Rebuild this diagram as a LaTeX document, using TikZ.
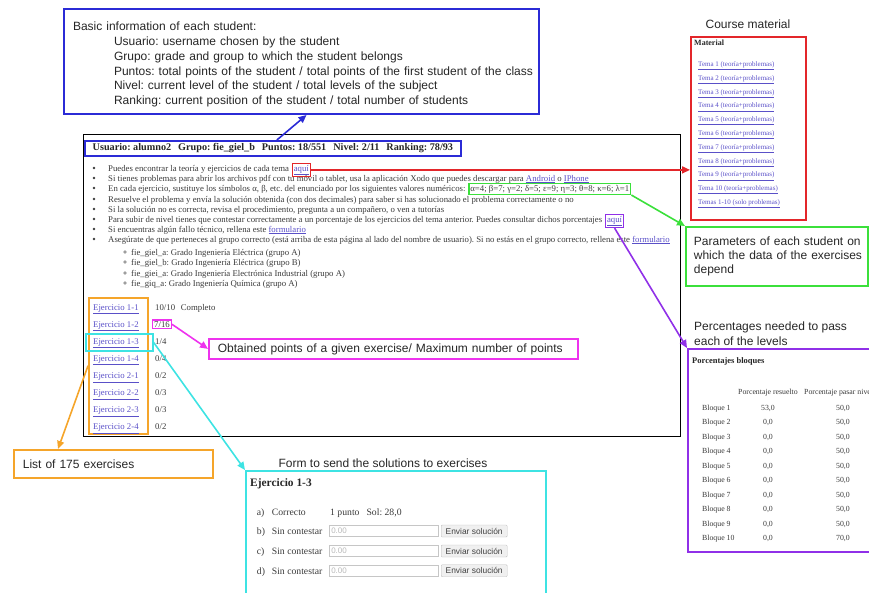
\documentclass[tikz,border=0pt]{standalone}
\usepackage{fontspec}
\setmainfont{Liberation Serif}
\newfontfamily\sansf{Liberation Sans}
\usetikzlibrary{arrows.meta}
\definecolor{cBlue}{HTML}{2B2BD6}
\definecolor{cRed}{HTML}{E3262A}
\definecolor{cGreen}{HTML}{3BE03B}
\definecolor{cPurple}{HTML}{9030E8}
\definecolor{cMag}{HTML}{EE33EE}
\definecolor{cOrange}{HTML}{F5A52A}
\definecolor{cCyan}{HTML}{3DE3E3}
\definecolor{cLink}{HTML}{5A50C8}
\definecolor{cTxt}{HTML}{3A3A3A}
\newcommand\weblink[1]{{\color{cLink}\underline{#1}}}
\begin{document}
\frenchspacing
\hyphenpenalty=10000
\begin{tikzpicture}[x=1pt,y=-1pt,
 ann/.style={font=\sansf\fontsize{12}{14.8}\selectfont, text=black!85},
 abox/.style={ann, draw, line width=1.8pt, align=left, inner xsep=9pt, inner ysep=0pt, anchor=north west},
 web/.style={font=\fontsize{8.75}{10}\selectfont, text=cTxt, anchor=base west, inner sep=0pt},
 matl/.style={font=\fontsize{7}{8}\selectfont, text=cLink, anchor=base west, inner sep=0pt},
 tbl/.style={font=\fontsize{7.8}{9}\selectfont, text=cTxt, inner sep=0pt, anchor=base},
 frm/.style={font=\fontsize{9.7}{11}\selectfont, text=cTxt, anchor=base west, inner sep=0pt},
 hl/.style={line width=1.4pt, inner sep=1.5pt, anchor=base west},
 boxf/.style={draw, line width=1.8pt, anchor=north west, inner sep=0pt},
 arr/.style={line width=1.6pt, -{Triangle[length=8pt,width=7pt]}},
 infield/.style={draw=gray!45, line width=0.5pt, anchor=west, text width=105pt, inner xsep=2pt, inner ysep=0pt, minimum height=11pt, align=left, font=\sansf\fontsize{8}{9}\selectfont, text=gray!55},
 button/.style={draw=gray!50, fill=gray!12, rounded corners=1pt, anchor=west, minimum width=66pt, minimum height=12pt, inner sep=0pt, font=\sansf\fontsize{8.4}{9}\selectfont, text=black!75},
]
\useasboundingbox (0,0) rectangle (869,592);
\clip (0,0) rectangle (869,592);

% ---------- top annotation ----------
\node[abox, draw=cBlue, line width=2pt, minimum height=105pt, text width=463pt, inner xsep=6pt] (info) at (63,8)
 {\rule{0pt}{15pt}\hspace*{3pt}Basic information of each student:\\
  \hspace*{44pt}Usuario: username chosen by the student\\
  \hspace*{44pt}Grupo: grade and group to which the student belongs\\
  \hspace*{44pt}Puntos: total points of the student / total points of the first student of the class\\
  \hspace*{44pt}Nivel: current level of the student / total levels of the subject\\
  \hspace*{44pt}Ranking: current position of the student / total number of students};

% ---------- screenshot page ----------
\node[boxf, draw=black, line width=1pt, minimum width=597pt, minimum height=302pt] (page) at (83,134) {};
\node[draw=cBlue, line width=1.8pt, anchor=north west, minimum width=376pt, minimum height=15pt, inner sep=0pt,
      font=\bfseries\fontsize{10.2}{11}\selectfont, text=black!85] (hdr) at (84,140)
 {Usuario: alumno2\hspace{7pt}Grupo: fie\_giel\_b\hspace{7pt}Puntos: 18/551\hspace{7pt}Nivel: 2/11\hspace{7pt}Ranking: 78/93};

% bullets
\foreach \y in {168,178,188,199,209,219,229,239} \fill[cTxt] (94,\y) circle (1.3pt);
\node[web] (b1) at (108,171) {Puedes encontrar la teoría y ejercicios de cada tema};
\node[web, hl, draw=cRed, text=cLink, xshift=2.5pt] (aqui1) at (b1.base east) {\underline{aquí}};
\node[web] (b2) at (108,181) {Si tienes problemas para abrir los archivos pdf con tu móvil o tablet, usa la aplicación Xodo que puedes descargar para \weblink{Android} o \weblink{IPhone}};
\node[web] (b3) at (108,191) {En cada ejercicio, sustituye los símbolos α, β, etc. del enunciado por los siguientes valores numéricos:};
\node[web, hl, draw=cGreen, xshift=2.5pt] (grn) at (b3.base east) {α=4; β=7; γ=2; δ=5; ε=9; η=3; θ=8; κ=6; λ=1};
\node[web] (b4) at (108,202) {Resuelve el problema y envía la solución obtenida (con dos decimales) para saber si has solucionado el problema correctamente o no};
\node[web] (b5) at (108,212) {Si la solución no es correcta, revisa el procedimiento, pregunta a un compañero, o ven a tutorías};
\node[web] (b6) at (108,222) {Para subir de nivel tienes que contestar correctamente a un porcentaje de los ejercicios del tema anterior. Puedes consultar dichos porcentajes};
\node[web, hl, draw=cPurple, text=cLink, xshift=2.5pt] (aqui2) at (b6.base east) {\underline{aquí}};
\node[web] (b7) at (108,232) {Si encuentras algún fallo técnico, rellena este \weblink{formulario}};
\node[web] (b8) at (108,242) {Asegúrate de que perteneces al grupo correcto (está arriba de esta página al lado del nombre de usuario). Si no estás en el grupo correcto, rellena este \weblink{formulario}};
\foreach \y in {252,262,273,283} \draw[cTxt, line width=0.4pt] (125,\y) circle (1.3pt);
\node[web] (s1) at (131,255) {fie\_giel\_a: Grado Ingeniería Eléctrica (grupo A)};
\node[web] (s2) at (131,265) {fie\_giel\_b: Grado Ingeniería Eléctrica (grupo B)};
\node[web] (s3) at (131,276) {fie\_giei\_a: Grado Ingeniería Electrónica Industrial (grupo A)};
\node[web] (s4) at (131,286) {fie\_giq\_a: Grado Ingeniería Química (grupo A)};

% exercises
\node[boxf, draw=cOrange, line width=1.5pt, minimum width=59pt, minimum height=136pt] (exlist) at (88,297) {};
\foreach \n [count=\k from 0] in {1-1,1-2,1-3,1-4,2-1,2-2,2-3,2-4}
  \node[web, text=cLink] (e\k) at (93,{310+17.14*\k}) {\underline{Ejercicio \n}};
\node[web] (sc0) at (155,310) {10/10};
\node[web] (cmp) at (180.7,310) {Completo};
\node[web, hl, draw=cMag] (m716) at (152,327.1) {7/16};
\foreach \s [count=\k from 2] in {{1/4},{0/4},{0/2},{0/3},{0/3},{0/2}}
  \node[web] (sc\k) at (155,{310+17.14*\k}) {\s};
\node[boxf, draw=cCyan, line width=1.5pt, minimum width=67pt, minimum height=17pt] (cy13) at (85,333) {};

% ---------- side annotations ----------
\node[abox, draw=cMag, minimum height=20pt, text width=351pt] (obt) at (208,338) {Obtained points of a given exercise/ Maximum number of points};
\node[abox, draw=cOrange, minimum height=28pt, text width=181pt] (lst) at (13,449) {List of 175 exercises};

% course material
\node[ann] (cmt) at (748,24) {Course material};
\node[boxf, draw=cRed, minimum width=115pt, minimum height=183pt] (mat) at (690,36) {};
\node[font=\bfseries\fontsize{8}{9}\selectfont, text=black!85, anchor=base west, inner sep=0pt] (matt) at (694,45) {Material};
\foreach \i in {1,...,10}
  \node[matl] (t\i) at (698,{66.5+13.8*(\i-1)}) {\underline{Tema \i{} (teoría+problemas)}};
\node[matl] (t11) at (698,204.5) {\underline{Temas 1-10 (solo problemas)}};

% parameters
\node[abox, draw=cGreen, font=\sansf\fontsize{12}{14}\selectfont, minimum height=59pt, text width=172pt, inner xsep=5pt] (parb) at (685,226)
 {\hspace*{3pt}Parameters of each student on\\\hspace*{3pt}which the data of the exercises\\\hspace*{3pt}depend};

% percentages
\node[ann, align=left, anchor=north west, inner sep=0pt] (pctt) at (694,322) {Percentages needed to pass\\each of the levels};
\node[boxf, draw=cPurple, minimum width=200pt, minimum height=203pt] (pct) at (687,348) {};
\node[font=\bfseries\fontsize{8.5}{9}\selectfont, text=black!85, anchor=base west, inner sep=0pt] (pctb) at (692,363) {Porcentajes bloques};
\node[tbl, anchor=base west] (h1) at (738,394) {Porcentaje resuelto};
\node[tbl, anchor=base west] (h2) at (804,394) {Porcentaje pasar nivel};
\foreach \r/\p [count=\i] in {{53,0}/{50,0},{0,0}/{50,0},{0,0}/{50,0},{0,0}/{50,0},{0,0}/{50,0},{0,0}/{50,0},{0,0}/{50,0},{0,0}/{50,0},{0,0}/{50,0},{0,0}/{70,0}}{
  \node[tbl, anchor=base west] (bq\i) at (702,{410.5+14.45*(\i-1)}) {Bloque \i};
  \node[tbl] (rv\i) at (768,{410.5+14.45*(\i-1)}) {\r};
  \node[tbl] (pv\i) at (843,{410.5+14.45*(\i-1)}) {\p};
}

% form
\node[ann] (ftitle) at (383,463) {Form to send the solutions to exercises};
\node[boxf, draw=cCyan, line width=2pt, minimum width=300pt, minimum height=135pt] (form) at (245,470) {};
\node[font=\bfseries\fontsize{11.4}{12}\selectfont, text=black!85, anchor=base west, inner sep=0pt] (fex) at (250,486) {Ejercicio 1-3};
\node[frm] (la) at (256.7,515) {a)};
\node[frm] (sa) at (271.7,515) {Correcto};
\node[frm] (pa) at (330,515) {1 punto\hspace{7pt}Sol: 28,0};
\foreach \l/\y in {b/531,c/551,d/570.7}{
  \node[frm] (l\l) at (256.7,\y+3.3) {\l)};
  \node[frm] (s\l) at (271.7,\y+3.3) {Sin contestar};
  \node[infield] (in\l) at (329,\y) {0.00};
  \node[button] (bt\l) at (441,\y) {Enviar solución};
}

% ---------- connectors ----------
\draw[arr, cBlue] ([xshift=4pt]hdr.north) -- ([xshift=5pt]info.south);
\draw[arr, cRed] (aqui1.east) -- (aqui1.east -| mat.west);
\draw[arr, cGreen] (grn.south east) -- (parb.north west);
\draw[arr, cPurple] (aqui2.south) -- (pct.north west);
\draw[arr, cMag] (m716.east) -- (obt.west);
\draw[arr, cOrange] (exlist.west) -- ([xshift=45pt]lst.north west);
\draw[arr, cCyan] (cy13.east) -- (form.north west);
\end{tikzpicture}
\end{document}
